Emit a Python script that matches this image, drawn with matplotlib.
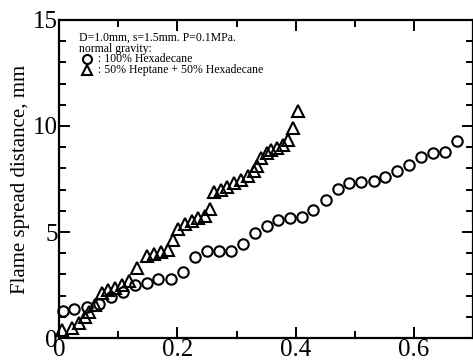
import matplotlib
matplotlib.use('Agg')
import matplotlib.pyplot as plt
from matplotlib.ticker import MultipleLocator

plt.rcParams['font.family'] = ['Liberation Serif', 'DejaVu Serif']

# 100% Hexadecane (circles)
hexa_t = [0.006, 0.026, 0.047, 0.068, 0.088, 0.108, 0.128, 0.148, 0.167, 0.189,
          0.209, 0.229, 0.250, 0.270, 0.290, 0.311, 0.331, 0.351, 0.371, 0.391,
          0.411, 0.430, 0.451, 0.471, 0.491, 0.511, 0.532, 0.552, 0.572, 0.592,
          0.612, 0.632, 0.653, 0.673]
hexa_d = [1.27, 1.37, 1.48, 1.60, 1.95, 2.15, 2.50, 2.61, 2.78, 2.78,
          3.13, 3.81, 4.12, 4.12, 4.12, 4.45, 4.95, 5.27, 5.57, 5.67,
          5.70, 6.02, 6.49, 7.01, 7.31, 7.36, 7.41, 7.60, 7.87, 8.16,
          8.52, 8.71, 8.79, 9.31]

# 50% Heptane + 50% Hexadecane (triangles)
mix_t = [0.005, 0.022, 0.034, 0.043, 0.051, 0.061, 0.072, 0.082, 0.094, 0.106,
         0.118, 0.131, 0.148, 0.160, 0.172, 0.184, 0.193, 0.201, 0.213, 0.225,
         0.235, 0.247, 0.256, 0.262, 0.273, 0.284, 0.295, 0.307, 0.319, 0.329,
         0.334, 0.342, 0.351, 0.359, 0.368, 0.378, 0.387, 0.395, 0.404]
mix_d = [0.38, 0.48, 0.71, 1.00, 1.24, 1.57, 2.14, 2.29, 2.38, 2.52,
         2.67, 3.29, 3.86, 3.95, 4.05, 4.14, 4.62, 5.14, 5.38, 5.52,
         5.67, 5.76, 6.10, 6.90, 7.00, 7.14, 7.29, 7.43, 7.62, 7.86,
         8.10, 8.48, 8.71, 8.86, 8.95, 9.10, 9.33, 9.90, 10.71]

fig = plt.figure(figsize=(4.73, 3.62), dpi=100)
ax = fig.add_axes([0.125, 0.066, 0.875, 0.879])

mk = dict(linestyle='none', markerfacecolor='none', markeredgecolor='black',
          markeredgewidth=1.5, clip_on=False)
ax.plot(hexa_t, hexa_d, marker='o', markersize=7.5, **mk)
ax.plot(mix_t, mix_d, marker='^', markersize=8, **mk)

ax.set_xlim(0, 0.70)
ax.set_ylim(0, 15)
ax.xaxis.set_major_locator(MultipleLocator(0.2))
ax.xaxis.set_minor_locator(MultipleLocator(0.1))
ax.yaxis.set_major_locator(MultipleLocator(5))
ax.yaxis.set_minor_locator(MultipleLocator(1))
ax.set_xticks([0, 0.2, 0.4, 0.6])
ax.set_xticklabels(['0', '0.2', '0.4', '0.6'])
ax.tick_params(which='both', direction='in', top=True, right=True,
               labelsize=18, width=1.4, pad=1)
ax.tick_params(which='major', length=8)
ax.tick_params(which='minor', length=5)
for s in ax.spines.values():
    s.set_linewidth(1.6)

ax.set_ylabel('Flame spread distance, mm', fontsize=15, labelpad=2)

# legend block
fs = 8.5
ax.text(0.048, 0.943, 'D=1.0mm, s=1.5mm. P=0.1MPa.', transform=ax.transAxes,
        fontsize=fs, va='center')
ax.text(0.048, 0.910, 'normal gravity:', transform=ax.transAxes,
        fontsize=fs, va='center')
ax.plot([0.068], [0.877], transform=ax.transAxes, marker='o', markersize=6.5, **mk)
ax.plot([0.068], [0.843], transform=ax.transAxes, marker='^', markersize=7, **mk)
ax.text(0.095, 0.877, ': 100% Hexadecane', transform=ax.transAxes,
        fontsize=fs, va='center')
ax.text(0.095, 0.843, ': 50% Heptane + 50% Hexadecane', transform=ax.transAxes,
        fontsize=fs, va='center')

fig.savefig('out.png', dpi=100)
